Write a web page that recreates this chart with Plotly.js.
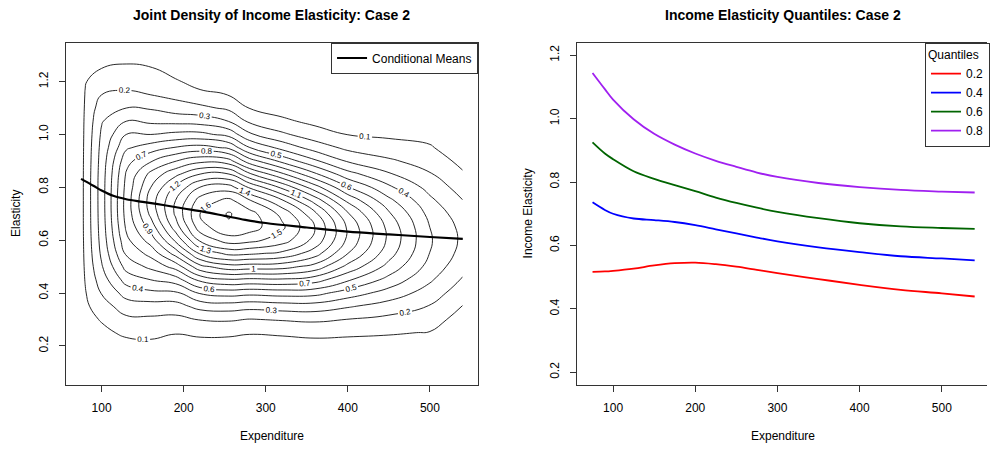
<!DOCTYPE html>
<html><head><meta charset="utf-8">
<script src="https://cdn.plot.ly/plotly-3.0.1.min.js"></script>
<style>html,body{margin:0;padding:0;background:#fff}#chart{width:990px;height:450px}</style>
</head><body><div id="chart"></div>
<script>
// ---- Left panel: joint density grid ----
const gridX = [75, 80, 100, 130, 160, 190, 220, 255, 280, 320, 360, 400, 450, 500, 540];
const gridY = [0.15,0.20,0.25,0.30,0.35,0.40,0.45,0.50,0.55,0.60,0.65,0.70,0.75,0.80,0.85,0.90,0.95,1.00,1.05,1.10,1.15,1.20,1.25,1.30,1.35];
const dens_x75  = [0.01,0.02,0.03,0.04,0.05,0.057,0.062,0.065,0.067,0.068,0.068,0.068,0.068,0.068,0.068,0.068,0.067,0.066,0.065,0.063,0.06,0.055,0.047,0.037,0.027];
const dens_x80  = [0.02,0.035,0.05,0.065,0.08,0.093,0.104,0.112,0.118,0.122,0.125,0.126,0.126,0.126,0.125,0.123,0.121,0.118,0.115,0.11,0.104,0.095,0.08,0.06,0.04];
const dens_x100 = [0.025,0.045,0.075,0.108,0.155,0.205,0.25,0.29,0.318,0.334,0.343,0.348,0.35,0.35,0.347,0.34,0.33,0.315,0.292,0.255,0.2,0.145,0.1,0.062,0.035];
const dens_x130 = [0.03,0.065,0.12,0.178,0.25,0.34,0.44,0.535,0.615,0.675,0.715,0.737,0.74,0.73,0.71,0.665,0.585,0.5,0.4,0.3,0.22,0.16,0.115,0.07,0.035];
const dens_x160 = [0.035,0.07,0.13,0.18,0.26,0.375,0.5,0.625,0.735,0.845,0.945,1.025,1.05,1.0,0.93,0.79,0.65,0.5,0.38,0.29,0.2,0.145,0.105,0.065,0.035];
const dens_x190 = [0.03,0.06,0.105,0.17,0.26,0.38,0.55,0.74,0.94,1.12,1.25,1.316,1.30,1.216,1.073,0.895,0.707,0.526,0.37,0.25,0.17,0.11,0.065,0.035,0.015];
const dens_x220 = [0.035,0.065,0.118,0.205,0.335,0.51,0.727,0.97,1.213,1.42,1.558,1.605,1.544,1.403,1.20,0.97,0.738,0.529,0.358,0.227,0.12,0.07,0.04,0.02,0.01];
const dens_x255 = [0.03,0.061,0.118,0.212,0.351,0.545,0.788,1.06,1.329,1.553,1.685,1.71,1.628,1.445,1.202,0.936,0.683,0.467,0.298,0.179,0.098,0.053,0.025,0.011,0.005];
const dens_x280 = [0.025,0.053,0.107,0.196,0.335,0.53,0.776,1.051,1.319,1.532,1.648,1.64,1.511,1.289,1.018,0.745,0.504,0.316,0.183,0.098,0.048,0.022,0.01,0.004,0.002];
const dens_x320 = [0.027,0.058,0.114,0.208,0.351,0.545,0.783,1.04,1.277,1.449,1.52,1.471,1.312,1.078,0.818,0.57,0.367,0.218,0.119,0.06,0.027,0.011,0.004,0.002,0.001];
const dens_x360 = [0.032,0.066,0.124,0.218,0.355,0.534,0.744,0.961,1.147,1.268,1.298,1.223,1.06,0.843,0.617,0.415,0.256,0.145,0.076,0.036,0.015,0.006,0.002,0.001,0.0];
const dens_x400 = [0.033,0.064,0.117,0.198,0.311,0.453,0.614,0.771,0.901,0.977,0.983,0.911,0.776,0.608,0.437,0.288,0.176,0.098,0.05,0.024,0.01,0.004,0.002,0.001,0.0];
const dens_x450 = [0.034,0.063,0.108,0.172,0.257,0.358,0.466,0.566,0.641,0.678,0.668,0.614,0.526,0.419,0.311,0.215,0.139,0.083,0.047,0.024,0.011,0.005,0.002,0.001,0.0];
const dens_x500 = [0.037,0.061,0.096,0.141,0.195,0.255,0.314,0.364,0.398,0.41,0.399,0.368,0.321,0.266,0.208,0.155,0.109,0.073,0.046,0.027,0.015,0.008,0.004,0.002,0.001];
const dens_x540 = [0.0095,0.019,0.036,0.061,0.097,0.141,0.189,0.234,0.266,0.28,0.271,0.244,0.202,0.156,0.111,0.073,0.044,0.025,0.013,0.006,0.003,0.001,0.0,0.0,0.0];

// Conditional means
const meanX = [75, 90, 100, 115, 130, 150, 175, 200, 225, 250, 275, 300, 350, 400, 450, 500, 540];
const meanY = [0.832, 0.806, 0.788, 0.767, 0.755, 0.745, 0.733, 0.72, 0.707, 0.692, 0.677, 0.665, 0.648, 0.632, 0.622, 0.612, 0.605];

// ---- Right panel: quantile curves ----
const quantX = [75, 90, 100, 125, 150, 175, 200, 225, 250, 275, 300, 350, 400, 450, 500, 540];
const q20 = [0.517, 0.518, 0.52, 0.527, 0.537, 0.544, 0.546, 0.541, 0.533, 0.523, 0.513, 0.494, 0.476, 0.46, 0.449, 0.439];
const q40 = [0.736, 0.712, 0.70, 0.685, 0.68, 0.674, 0.664, 0.651, 0.638, 0.625, 0.613, 0.594, 0.579, 0.566, 0.559, 0.553];
const q60 = [0.925, 0.89, 0.872, 0.834, 0.81, 0.79, 0.771, 0.751, 0.734, 0.719, 0.706, 0.686, 0.67, 0.66, 0.655, 0.652];
const q80 = [1.144, 1.093, 1.06, 0.998, 0.952, 0.918, 0.89, 0.867, 0.848, 0.83, 0.816, 0.797, 0.784, 0.775, 0.77, 0.767];
const quantNames = ['0.2', '0.4', '0.6', '0.8'];
const quantColors = ['#FF0000', '#0000FF', '#006400', '#A020F0'];

const xTicks = [100, 200, 300, 400, 500];
const yTicks = [0.2, 0.4, 0.6, 0.8, 1.0, 1.2];

// build z table (rows = y, cols = x)
const densCols = [dens_x75, dens_x80, dens_x100, dens_x130, dens_x160, dens_x190, dens_x220, dens_x255,
                  dens_x280, dens_x320, dens_x360, dens_x400, dens_x450, dens_x500, dens_x540];
const z = gridY.map((_, j) => densCols.map(col => col[j]));

const FONT = 'Liberation Sans, Arial, Helvetica, sans-serif';

const traces = [
  {
    type: 'contour', x: gridX, y: gridY, z: z, xaxis: 'x', yaxis: 'y',
    autocontour: false,
    contours: { start: 0.1, end: 1.7, size: 0.1, coloring: 'none', showlabels: true,
                labelfont: { size: 8, color: '#000', family: FONT } },
    line: { color: '#111', width: 0.9, smoothing: 1.3 },
    showscale: false, showlegend: false, hoverinfo: 'skip'
  },
  {
    type: 'scatter', mode: 'lines', x: meanX, y: meanY, xaxis: 'x', yaxis: 'y',
    name: 'Conditional Means', legend: 'legend',
    line: { color: '#000', width: 2.2, shape: 'spline' }
  }
];
[q20, q40, q60, q80].forEach((q, i) => {
  traces.push({
    type: 'scatter', mode: 'lines', x: quantX, y: q, xaxis: 'x2', yaxis: 'y2',
    name: quantNames[i], legend: 'legend2',
    line: { color: quantColors[i], width: 1.8, shape: 'spline' }
  });
});

const axisCommon = {
  showgrid: false, zeroline: false, showline: true, linecolor: '#333', linewidth: 1,
  ticks: 'outside', ticklen: 6, tickcolor: '#333', tickwidth: 1,
  tickfont: { size: 12, color: '#000', family: FONT }, ticklabelstandoff: 6
};
const yDom = [65 / 450, (450 - 42.5) / 450];

const layout = {
  width: 990, height: 450,
  margin: { l: 0, r: 0, t: 0, b: 0 },
  paper_bgcolor: '#fff', plot_bgcolor: '#fff',
  font: { family: FONT, size: 12, color: '#000' },
  xaxis: Object.assign({}, axisCommon, { domain: [66 / 990, 479.5 / 990], range: [56.4, 558.6],
    tickvals: xTicks, mirror: true, anchor: 'y' }),
  yaxis: Object.assign({}, axisCommon, { domain: yDom, range: [0.052, 1.348],
    tickvals: yTicks, tickformat: '.1f', tickangle: -90, mirror: true, anchor: 'x' }),
  xaxis2: Object.assign({}, axisCommon, { domain: [579 / 990, 1], range: [56.4, 555.0],
    tickvals: xTicks, mirror: true, anchor: 'y2' }),
  yaxis2: Object.assign({}, axisCommon, { domain: yDom, range: [0.16, 1.24],
    tickvals: yTicks, tickformat: '.1f', tickangle: -90, mirror: false, anchor: 'x2' }),
  legend: { x: 479.5 / 990, xanchor: 'right', y: yDom[1], yanchor: 'top',
    bordercolor: '#333', borderwidth: 1, bgcolor: '#fff', font: { size: 12, family: FONT } },
  legend2: { x: 993 / 990, xanchor: 'right', y: yDom[1], yanchor: 'top',
    bordercolor: '#333', borderwidth: 1, bgcolor: '#fff', font: { size: 12, family: FONT },
    title: { text: 'Quantiles', font: { size: 12, family: FONT } } },
  annotations: [
    { text: '<b>Joint Density of Income Elasticity: Case 2</b>', xref: 'paper', yref: 'paper',
      x: 272.5 / 990, y: (450 - 15) / 450, xanchor: 'center', yanchor: 'middle', showarrow: false,
      font: { size: 14, family: FONT } },
    { text: '<b>Income Elasticity Quantiles: Case 2</b>', xref: 'paper', yref: 'paper',
      x: 785 / 990, y: (450 - 15) / 450, xanchor: 'center', yanchor: 'middle', showarrow: false,
      font: { size: 14, family: FONT } },
    { text: 'Expenditure', xref: 'paper', yref: 'paper', x: 272.5 / 990, y: (450 - 436) / 450,
      xanchor: 'center', yanchor: 'middle', showarrow: false, font: { size: 12, family: FONT } },
    { text: 'Expenditure', xref: 'paper', yref: 'paper', x: 785 / 990, y: (450 - 436) / 450,
      xanchor: 'center', yanchor: 'middle', showarrow: false, font: { size: 12, family: FONT } },
    { text: 'Elasticity', xref: 'paper', yref: 'paper', x: 16 / 990, y: (450 - 213) / 450,
      xanchor: 'center', yanchor: 'middle', textangle: -90, showarrow: false, font: { size: 12, family: FONT } },
    { text: 'Income Elasticity', xref: 'paper', yref: 'paper', x: 530 / 990, y: (450 - 213) / 450,
      xanchor: 'center', yanchor: 'middle', textangle: -90, showarrow: false, font: { size: 12, family: FONT } }
  ]
};

Plotly.newPlot('chart', traces, layout, { staticPlot: true, displayModeBar: false });
</script>
</body></html>
